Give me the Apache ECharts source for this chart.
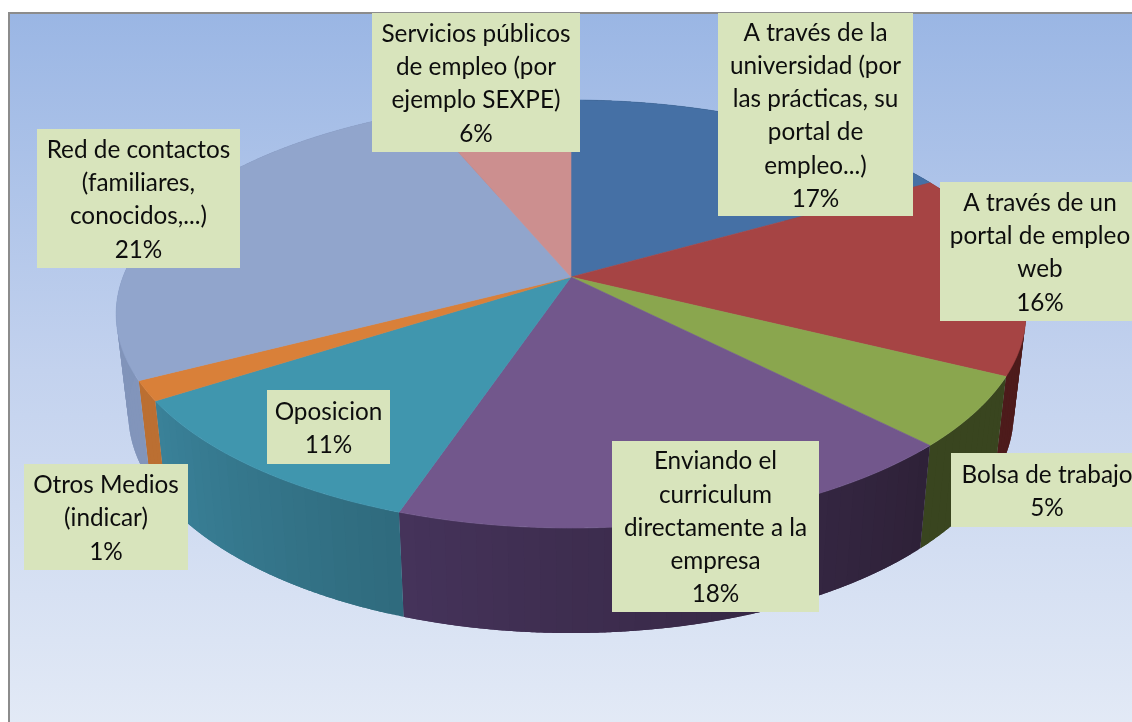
<!DOCTYPE html>
<html><head><meta charset="utf-8">
<style>html,body{margin:0;padding:0;background:#fff;overflow:hidden}#c{width:1132px;height:722px}</style>
<script src="https://cdn.jsdelivr.net/npm/echarts@6/dist/echarts.min.js"></script>
</head><body><div id="c"></div>
<script>
// ---- data ----
const categories = [
  'A través de la\nuniversidad (por\nlas prácticas, su\nportal de\nempleo...)',
  'A través de un\nportal de empleo\nweb',
  'Bolsa de trabajo',
  'Enviando el\ncurriculum\ndirectamente a la\nempresa',
  'Oposicion',
  'Otros Medios\n(indicar)',
  'Red de contactos\n(familiares,\nconocidos,...)',
  'Servicios públicos\nde empleo (por\nejemplo SEXPE)'
];
const percentLabels = ['17%','16%','5%','18%','11%','1%','21%','6%'];
// share of the full turn each slice occupies as drawn
const sliceShares = [16.8, 15.5, 5.3, 17.6, 10.7, 1.5, 26.3, 6.3];

// ---- styles ----
const topColors = ['#4570a5','#a64444','#8aa64e','#72578c','#4096ae','#d98039','#91a5cc','#cc8f8f'];
const wallStart = ['#2c4669','#4d1b1b','#39451f','#2e2138','#2f6a7d','#bb6f32','#8295bb','#8f6464'];
const wallEnd   = ['#2c4669','#4d1b1b','#39451f','#45335a','#3a8299','#bb6f32','#7c90b6','#8f6464'];
// label boxes: x0, y0, x1, y1
const labelBoxes = [
  [718,13,913,216],[940,182,1140,321],[951,453,1143,527],[612,441,819,612],
  [267,390,390,464],[24,464,188,570],[37,129,240,268],[372,13,580,152]
];

// ---- perspective disc geometry ----
const apex = [571,277], k = 0.173;
const topPlane = {a:448, b:207.6, dy:0};
const basePlane = {a:436, b:213, dy:98.5};
function project(plane, theta){
  const x = Math.sin(theta), y = Math.cos(theta), w = 1 + k*y;
  return [apex[0] + plane.a*x/w, apex[1] + plane.dy - plane.b*y/w];
}
const total = sliceShares.reduce((s,v)=>s+v,0);
const startAngle = [];
sliceShares.reduce((acc,v,i)=>{startAngle[i]=acc; return acc+v;},0);
const toRad = s => s/total*Math.PI*2;
function hexMix(a,b,t){
  const p=h=>[1,3,5].map(i=>parseInt(h.substr(i,2),16));
  const A=p(a),B=p(b);
  return 'rgb('+A.map((v,i)=>Math.round(v+(B[i]-v)*t)).join(',')+')';
}

function renderTop(params, api){
  const i = params.dataIndex, share = api.value(0);
  const t0 = toRad(startAngle[i]), t1 = toRad(startAngle[i]+share);
  const n = Math.max(4, Math.ceil((t1-t0)/0.01));
  const pts = [apex.slice()];
  for(let j=0;j<=n;j++) pts.push(project(topPlane, t0+(t1-t0)*j/n));
  return {type:'polygon', shape:{points:pts},
    style:{fill:topColors[i], stroke:topColors[i], lineWidth:0.6}};
}
function renderWall(params, api){
  const i = params.dataIndex, share = api.value(0);
  const t0 = toRad(startAngle[i]), t1 = toRad(startAngle[i]+share);
  const n = Math.max(3, Math.ceil((t1-t0)/0.03));
  const step = (t1-t0)/n;
  const children = [];
  // each band runs on under the next one, which hides the seams between bands
  for(let j=0;j<n;j++){
    const a = t0+step*j, b = Math.min(t1, a+step*2);
    const m = Math.ceil((b-a)/0.004);
    const upper = [], lower = [];
    for(let q=0;q<=m;q++){
      const t = a+(b-a)*q/m;
      upper.push(project(topPlane,t));
      lower.unshift(project(basePlane,t));
    }
    children.push({type:'polygon',
      shape:{points:upper.concat(lower)},
      style:{fill:hexMix(wallStart[i], wallEnd[i], (j+0.5)/n)}});
  }
  return {type:'group', children};
}
function renderLabel(params, api){
  const i = params.dataIndex, b = labelBoxes[i];
  return {type:'group', children:[
    {type:'rect', shape:{x:b[0],y:b[1],width:b[2]-b[0],height:b[3]-b[1]}, style:{fill:'#d8e4bc'}},
    {type:'text', x:(b[0]+b[2])/2, y:(b[1]+b[3])/2+1.5, style:{
      text: categories[i]+'\n'+percentLabels[i],
      fontFamily:'Lato', fontSize:24.3, lineHeight:33.2, fill:'#0d0d0d',
      align:'center', verticalAlign:'middle'}}
  ]};
}

const chart = echarts.init(document.getElementById('c'), null, {width:1132,height:722});
chart.setOption({
  animation:false,
  backgroundColor:'#ffffff',
  graphic:[{type:'rect', z:-1, silent:true,
    shape:{x:9,y:13,width:1130,height:716},
    style:{
      fill:{type:'linear',x:0,y:0,x2:0,y2:1,colorStops:[
        {offset:0,color:'#9ab6e4'},{offset:0.5,color:'#c3d2ee'},{offset:1,color:'#e3eaf6'}]},
      stroke:'#8c8c8c', lineWidth:2}}],
  series:[
    {type:'custom', coordinateSystem:'none', silent:true, z:2, data:sliceShares, renderItem:renderWall},
    {type:'custom', coordinateSystem:'none', silent:true, z:3, data:sliceShares, renderItem:renderTop},
    {type:'custom', coordinateSystem:'none', silent:true, z:4, data:sliceShares, renderItem:renderLabel}
  ]
});
</script></body></html>
